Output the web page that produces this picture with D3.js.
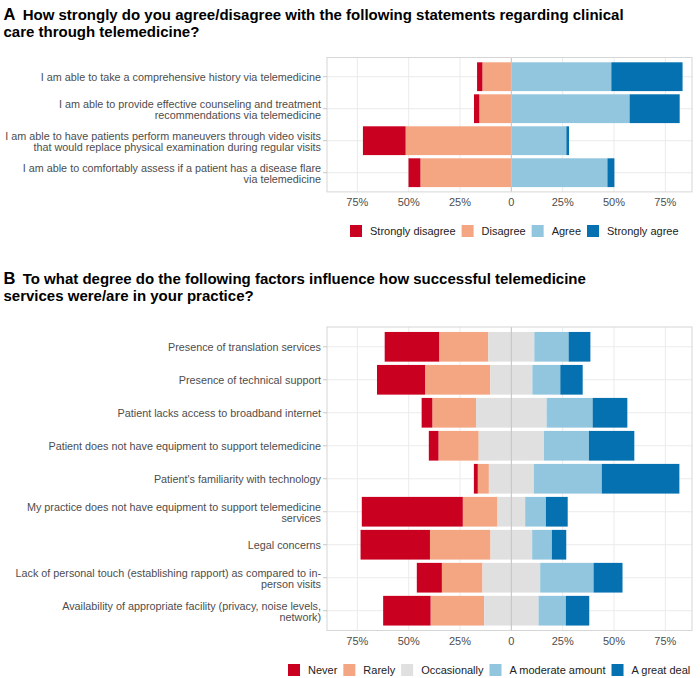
<!DOCTYPE html>
<html>
<head>
<meta charset="utf-8">
<script src="https://cdn.jsdelivr.net/npm/d3@7"></script>
<style>
  html, body { margin: 0; padding: 0; background: #fff; }
  svg { display: block; font-family: "Liberation Sans", Arial, sans-serif; }
</style>
</head>
<body>
<svg id="chart" width="700" height="678"></svg>
<script>
// ---------- Data ----------
const titleA = ["How strongly do you agree/disagree with the following statements regarding clinical", "care through telemedicine?"];
const titleB = ["To what degree do the following factors influence how successful telemedicine", "services were/are in your practice?"];

const categoriesA = [
  "I am able to take a comprehensive history via telemedicine",
  "I am able to provide effective counseling and treatment\nrecommendations via telemedicine",
  "I am able to have patients perform maneuvers through video visits\nthat would replace physical examination during regular visits",
  "I am able to comfortably assess if a patient has a disease flare\nvia telemedicine"
];
const levelsA = ["Strongly disagree", "Disagree", "Agree", "Strongly agree"];
const stronglyDisagree = [2.6, 2.6, 20.8, 5.8];
const disagree        = [14.1, 15.6, 51.5, 44.3];
const agree           = [48.7, 57.6, 26.8, 46.8];
const stronglyAgree   = [34.7, 24.4, 1.3, 3.4];

const categoriesB = [
  "Presence of translation services",
  "Presence of technical support",
  "Patient lacks access to broadband internet",
  "Patient does not have equipment to support telemedicine",
  "Patient's familiarity with technology",
  "My practice does not have equipment to support telemedicine\nservices",
  "Legal concerns",
  "Lack of personal touch (establishing rapport) as compared to in-\nperson visits",
  "Availability of appropriate facility (privacy, noise levels,\nnetwork)"
];
const levelsB = ["Never", "Rarely", "Occasionally", "A moderate amount", "A great deal"];
const never        = [26.5, 23.4, 5.2, 4.7, 1.9, 49.2, 33.8, 12.2, 23.1];
const rarely       = [24.0, 31.8, 21.3, 19.6, 5.4, 16.9, 29.5, 19.8, 26.1];
const occasionally = [22.4, 20.5, 34.4, 31.8, 21.9, 13.5, 20.3, 28.1, 26.5];
const moderate     = [16.7, 13.6, 22.4, 21.9, 33.1, 10.1, 9.6, 26.0, 13.3];
const greatDeal    = [10.6, 10.9, 16.9, 22.1, 37.8, 10.6, 7.0, 14.1, 11.4];

const tickValues = [-75, -50, -25, 0, 25, 50, 75];
const tickLabels = ["75%", "50%", "25%", "0", "25%", "50%", "75%"];

const colorsA = ["#ca0020", "#f4a582", "#92c5de", "#0571b0"];
const colorsB = ["#ca0020", "#f4a582", "#e0e0e0", "#92c5de", "#0571b0"];

// ---------- Layout ----------
const svg = d3.select("#chart");
const plotLeft = 327, plotRight = 692;
const textColor = "#4d4d4d";
const gridColor = "#ebebeb";
const borderColor = "#d6d6d6";
const labelSize = 10.8;

const x = d3.scaleLinear().domain([-89.8, 88]).range([plotLeft, plotRight]);

function buildSegments(seriesNeg, seriesNeutral, seriesPos, colorsNeg, colorNeutral, colorsPos) {
  const n = seriesNeg[0].length;
  const segs = [];
  for (let i = 0; i < n; i++) {
    const half = seriesNeutral ? seriesNeutral[i] / 2 : 0;
    let cur = -half;
    for (let k = seriesNeg.length - 1; k >= 0; k--) {
      const v = seriesNeg[k][i];
      segs.push({ row: i, x0: cur - v, x1: cur, color: colorsNeg[k] });
      cur -= v;
    }
    if (seriesNeutral) segs.push({ row: i, x0: -half, x1: half, color: colorNeutral });
    cur = half;
    for (let k = 0; k < seriesPos.length; k++) {
      const v = seriesPos[k][i];
      segs.push({ row: i, x0: cur, x1: cur + v, color: colorsPos[k] });
      cur += v;
    }
  }
  return segs;
}

function drawPanel(opts) {
  const g = svg.append("g");
  const y = d3.scaleBand().domain(d3.range(opts.categories.length))
    .range([opts.top, opts.bottom]).paddingInner(0.1).paddingOuter(0.15);

  g.selectAll(".vg").data(tickValues).join("line")
    .attr("x1", d => x(d)).attr("x2", d => x(d))
    .attr("y1", opts.top).attr("y2", opts.bottom)
    .attr("stroke", gridColor).attr("stroke-width", 1);
  g.selectAll(".hg").data(d3.range(opts.categories.length)).join("line")
    .attr("x1", plotLeft).attr("x2", plotRight)
    .attr("y1", d => y(d) + y.bandwidth() / 2).attr("y2", d => y(d) + y.bandwidth() / 2)
    .attr("stroke", gridColor).attr("stroke-width", 1);

  g.selectAll(".bar").data(opts.segments).join("rect")
    .attr("x", d => x(d.x0)).attr("width", d => Math.max(0, x(d.x1) - x(d.x0)))
    .attr("y", d => y(d.row)).attr("height", y.bandwidth())
    .attr("fill", d => d.color);

  g.append("line").attr("x1", x(0)).attr("x2", x(0))
    .attr("y1", opts.top).attr("y2", opts.bottom)
    .attr("stroke", "#c4c4c4").attr("stroke-width", 1);

  g.append("rect").attr("x", plotLeft).attr("y", opts.top)
    .attr("width", plotRight - plotLeft).attr("height", opts.bottom - opts.top)
    .attr("fill", "none").attr("stroke", borderColor).attr("stroke-width", 1);

  const lh = 10.6;
  opts.categories.forEach((c, i) => {
    const cy = y(i) + y.bandwidth() / 2;
    g.append("line").attr("x1", plotLeft - 4).attr("x2", plotLeft)
      .attr("y1", cy).attr("y2", cy).attr("stroke", "#c8c8c8");
    const lines = c.split("\n");
    const t = g.append("text").attr("text-anchor", "end")
      .attr("font-size", labelSize).attr("fill", textColor);
    lines.forEach((ln, j) => {
      t.append("tspan").attr("x", plotLeft - 6)
        .attr("y", cy + 3.9 + (j - (lines.length - 1) / 2) * lh + (lines.length > 1 ? 1 : 0))
        .text(ln);
    });
  });

  g.selectAll(".xl").data(tickValues).join("text")
    .attr("x", d => x(d)).attr("y", opts.bottom + 14.5)
    .attr("text-anchor", "middle").attr("font-size", 11).attr("fill", textColor)
    .text((d, i) => tickLabels[i]);

  const tt = g.append("text").attr("font-weight", "bold").attr("fill", "#000");
  tt.append("tspan").attr("x", 3.5).attr("y", opts.titleY).attr("font-size", 16.5).text(opts.tag);
  tt.append("tspan").attr("x", 22.7).attr("y", opts.titleY).attr("font-size", 15).text(opts.title[0]);
  tt.append("tspan").attr("x", 3.5).attr("y", opts.titleY + 17).attr("font-size", 15).text(opts.title[1]);

  const lg = g.append("g");
  let lx = opts.legendX;
  opts.levels.forEach((lev, k) => {
    lg.append("rect").attr("x", lx).attr("y", opts.legendY - 6)
      .attr("width", 12).attr("height", 12).attr("fill", opts.colors[k]);
    const tx = lg.append("text").attr("x", lx + 20).attr("y", opts.legendY + 4)
      .attr("font-size", 11).attr("fill", "#222").text(lev);
    const w = tx.node().getComputedTextLength();
    lx += 20 + w + opts.legendGap;
  });
}

drawPanel({
  categories: categoriesA,
  segments: buildSegments([stronglyDisagree, disagree], null, [agree, stronglyAgree],
    [colorsA[0], colorsA[1]], null, [colorsA[2], colorsA[3]]),
  top: 57.5, bottom: 191.9,
  tag: "A", title: titleA, titleY: 19.5,
  levels: levelsA, colors: colorsA, legendX: 350, legendY: 231, legendGap: 6
});

drawPanel({
  categories: categoriesB,
  segments: buildSegments([never, rarely], occasionally, [moderate, greatDeal],
    [colorsB[0], colorsB[1]], colorsB[2], [colorsB[3], colorsB[4]]),
  top: 327, bottom: 630.5,
  tag: "B", title: titleB, titleY: 283.5,
  levels: levelsB, colors: colorsB, legendX: 288, legendY: 670, legendGap: 6
});
</script>
</body>
</html>
